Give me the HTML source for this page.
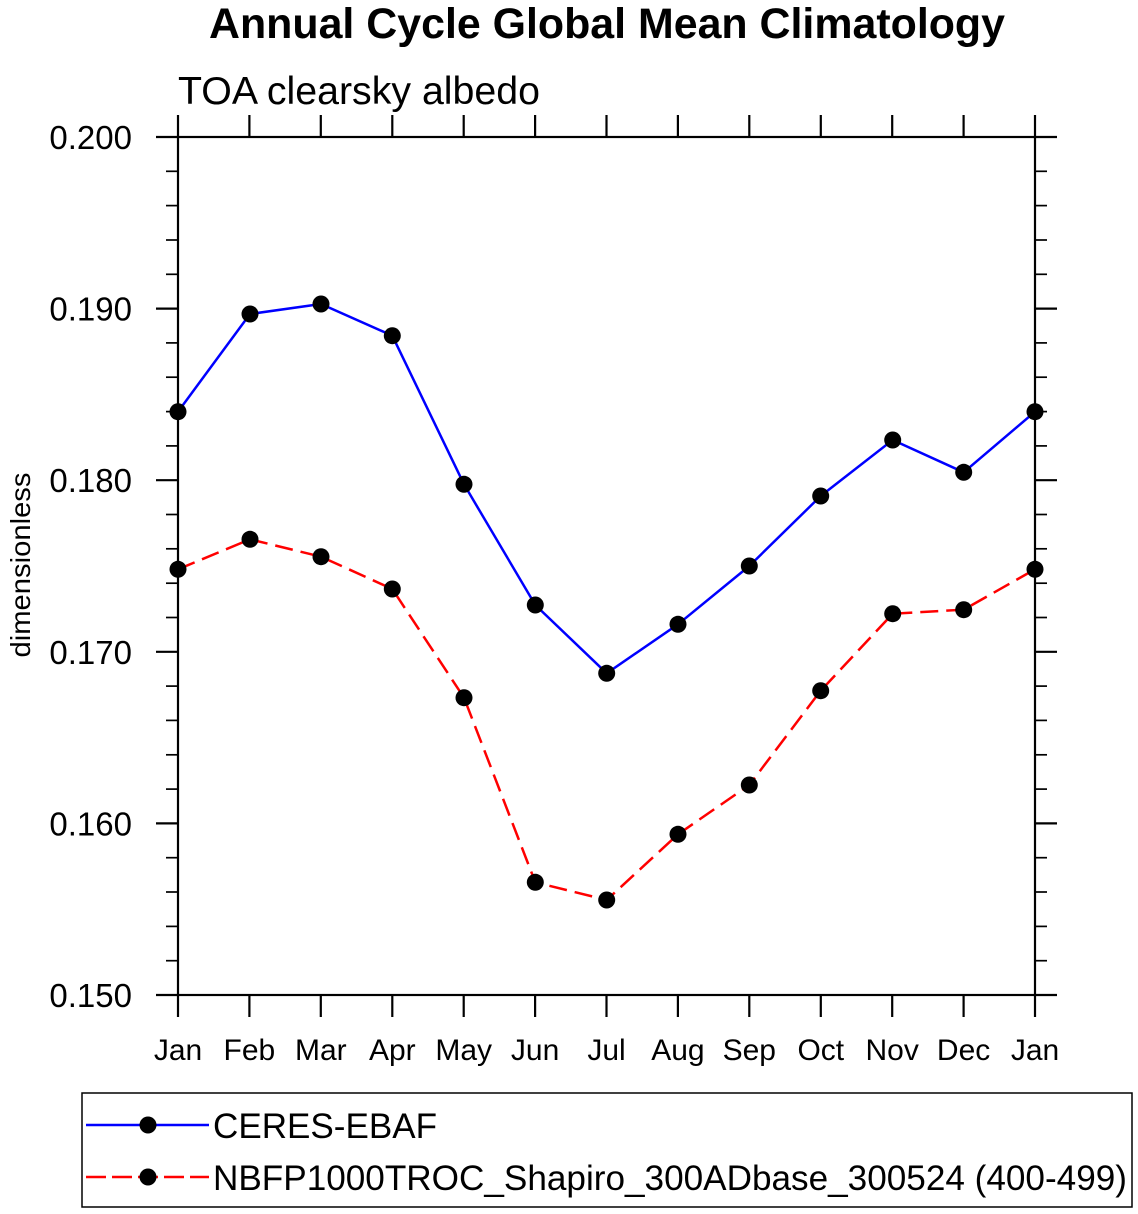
<!DOCTYPE html>
<html>
<head>
<meta charset="utf-8">
<style>
  html, body { margin:0; padding:0; background:#fff; }
  svg { display:block; }
  text { font-family: "Liberation Sans", Arial, Helvetica, sans-serif; fill:#000; }
</style>
</head>
<body>
<svg width="1138" height="1214" viewBox="0 0 1138 1214" xmlns="http://www.w3.org/2000/svg">
  <!-- Title -->
  <text x="607" y="38" font-size="43" font-weight="bold" text-anchor="middle" textLength="796" lengthAdjust="spacingAndGlyphs">Annual Cycle Global Mean Climatology</text>
  <text x="178" y="104" font-size="39" textLength="362" lengthAdjust="spacingAndGlyphs">TOA clearsky albedo</text>

  <!-- Y axis label -->
  <text transform="translate(30,565) rotate(-90)" font-size="28" text-anchor="middle" textLength="185" lengthAdjust="spacingAndGlyphs">dimensionless</text>

  <!-- Ticks -->
  <g stroke="#000" stroke-width="2.2" fill="none">
    <line x1="156" y1="137" x2="178" y2="137"/>
    <line x1="156" y1="308.6" x2="178" y2="308.6"/>
    <line x1="156" y1="480.2" x2="178" y2="480.2"/>
    <line x1="156" y1="651.8" x2="178" y2="651.8"/>
    <line x1="156" y1="823.4" x2="178" y2="823.4"/>
    <line x1="156" y1="995" x2="178" y2="995"/>
    <line x1="1035" y1="137" x2="1057" y2="137"/>
    <line x1="1035" y1="308.6" x2="1057" y2="308.6"/>
    <line x1="1035" y1="480.2" x2="1057" y2="480.2"/>
    <line x1="1035" y1="651.8" x2="1057" y2="651.8"/>
    <line x1="1035" y1="823.4" x2="1057" y2="823.4"/>
    <line x1="1035" y1="995" x2="1057" y2="995"/>
  </g>
  <g stroke="#000" stroke-width="1.7" fill="none">
    <line x1="166" y1="171.3" x2="178" y2="171.3"/><line x1="1035" y1="171.3" x2="1047" y2="171.3"/>
    <line x1="166" y1="205.6" x2="178" y2="205.6"/><line x1="1035" y1="205.6" x2="1047" y2="205.6"/>
    <line x1="166" y1="240.0" x2="178" y2="240.0"/><line x1="1035" y1="240.0" x2="1047" y2="240.0"/>
    <line x1="166" y1="274.3" x2="178" y2="274.3"/><line x1="1035" y1="274.3" x2="1047" y2="274.3"/>
    <line x1="166" y1="342.9" x2="178" y2="342.9"/><line x1="1035" y1="342.9" x2="1047" y2="342.9"/>
    <line x1="166" y1="377.2" x2="178" y2="377.2"/><line x1="1035" y1="377.2" x2="1047" y2="377.2"/>
    <line x1="166" y1="411.6" x2="178" y2="411.6"/><line x1="1035" y1="411.6" x2="1047" y2="411.6"/>
    <line x1="166" y1="445.9" x2="178" y2="445.9"/><line x1="1035" y1="445.9" x2="1047" y2="445.9"/>
    <line x1="166" y1="514.5" x2="178" y2="514.5"/><line x1="1035" y1="514.5" x2="1047" y2="514.5"/>
    <line x1="166" y1="548.8" x2="178" y2="548.8"/><line x1="1035" y1="548.8" x2="1047" y2="548.8"/>
    <line x1="166" y1="583.2" x2="178" y2="583.2"/><line x1="1035" y1="583.2" x2="1047" y2="583.2"/>
    <line x1="166" y1="617.5" x2="178" y2="617.5"/><line x1="1035" y1="617.5" x2="1047" y2="617.5"/>
    <line x1="166" y1="686.1" x2="178" y2="686.1"/><line x1="1035" y1="686.1" x2="1047" y2="686.1"/>
    <line x1="166" y1="720.4" x2="178" y2="720.4"/><line x1="1035" y1="720.4" x2="1047" y2="720.4"/>
    <line x1="166" y1="754.8" x2="178" y2="754.8"/><line x1="1035" y1="754.8" x2="1047" y2="754.8"/>
    <line x1="166" y1="789.1" x2="178" y2="789.1"/><line x1="1035" y1="789.1" x2="1047" y2="789.1"/>
    <line x1="166" y1="857.7" x2="178" y2="857.7"/><line x1="1035" y1="857.7" x2="1047" y2="857.7"/>
    <line x1="166" y1="892.0" x2="178" y2="892.0"/><line x1="1035" y1="892.0" x2="1047" y2="892.0"/>
    <line x1="166" y1="926.4" x2="178" y2="926.4"/><line x1="1035" y1="926.4" x2="1047" y2="926.4"/>
    <line x1="166" y1="960.7" x2="178" y2="960.7"/><line x1="1035" y1="960.7" x2="1047" y2="960.7"/>
  </g>
  <g stroke="#000" stroke-width="2.2" fill="none">
    <line x1="178" y1="115" x2="178" y2="137"/><line x1="178" y1="995" x2="178" y2="1017"/>
    <line x1="249.4" y1="115" x2="249.4" y2="137"/><line x1="249.4" y1="995" x2="249.4" y2="1017"/>
    <line x1="320.8" y1="115" x2="320.8" y2="137"/><line x1="320.8" y1="995" x2="320.8" y2="1017"/>
    <line x1="392.3" y1="115" x2="392.3" y2="137"/><line x1="392.3" y1="995" x2="392.3" y2="1017"/>
    <line x1="463.7" y1="115" x2="463.7" y2="137"/><line x1="463.7" y1="995" x2="463.7" y2="1017"/>
    <line x1="535.1" y1="115" x2="535.1" y2="137"/><line x1="535.1" y1="995" x2="535.1" y2="1017"/>
    <line x1="606.5" y1="115" x2="606.5" y2="137"/><line x1="606.5" y1="995" x2="606.5" y2="1017"/>
    <line x1="677.9" y1="115" x2="677.9" y2="137"/><line x1="677.9" y1="995" x2="677.9" y2="1017"/>
    <line x1="749.3" y1="115" x2="749.3" y2="137"/><line x1="749.3" y1="995" x2="749.3" y2="1017"/>
    <line x1="820.8" y1="115" x2="820.8" y2="137"/><line x1="820.8" y1="995" x2="820.8" y2="1017"/>
    <line x1="892.2" y1="115" x2="892.2" y2="137"/><line x1="892.2" y1="995" x2="892.2" y2="1017"/>
    <line x1="963.6" y1="115" x2="963.6" y2="137"/><line x1="963.6" y1="995" x2="963.6" y2="1017"/>
    <line x1="1035" y1="115" x2="1035" y2="137"/><line x1="1035" y1="995" x2="1035" y2="1017"/>
    <rect x="178" y="137" width="857" height="858"/>
  </g>

  <!-- Y tick labels -->
  <g font-size="33" text-anchor="end">
    <text x="132" y="149">0.200</text>
    <text x="132" y="320.6">0.190</text>
    <text x="132" y="492.2">0.180</text>
    <text x="132" y="663.8">0.170</text>
    <text x="132" y="835.4">0.160</text>
    <text x="132" y="1007">0.150</text>
  </g>

  <!-- X tick labels -->
  <g font-size="30" text-anchor="middle">
    <text x="178" y="1060">Jan</text>
    <text x="249.4" y="1060">Feb</text>
    <text x="320.8" y="1060">Mar</text>
    <text x="392.3" y="1060">Apr</text>
    <text x="463.7" y="1060">May</text>
    <text x="535.1" y="1060">Jun</text>
    <text x="606.5" y="1060">Jul</text>
    <text x="677.9" y="1060">Aug</text>
    <text x="749.3" y="1060">Sep</text>
    <text x="820.8" y="1060">Oct</text>
    <text x="892.2" y="1060">Nov</text>
    <text x="963.6" y="1060">Dec</text>
    <text x="1035" y="1060">Jan</text>
  </g>

  <!-- Series -->
  <polyline fill="none" stroke="#0000ff" stroke-width="2.5" stroke-linejoin="round"
    points="178,411.7 250,314 321,304 392.3,335.7 464,484.3 535.3,605 606.7,673.3 678,624.3 749.3,566 820.7,496 892.7,440 963.7,472.3 1035,411.7"/>
  <polyline fill="none" stroke="#ff0000" stroke-width="2.5" stroke-dasharray="18 8"
    points="178,569.3 250,539.3 321,556.7 392.3,589 464,697.7 535.3,882.3 606.7,900 678,834.3 749.3,785 820.7,690.7 892.7,613.7 963.7,609.7 1035,569.3"/>

  <g fill="#000">
    <circle cx="178" cy="411.7" r="8.5"/><circle cx="250" cy="314" r="8.5"/><circle cx="321" cy="304" r="8.5"/>
    <circle cx="392.3" cy="335.7" r="8.5"/><circle cx="464" cy="484.3" r="8.5"/><circle cx="535.3" cy="605" r="8.5"/>
    <circle cx="606.7" cy="673.3" r="8.5"/><circle cx="678" cy="624.3" r="8.5"/><circle cx="749.3" cy="566" r="8.5"/>
    <circle cx="820.7" cy="496" r="8.5"/><circle cx="892.7" cy="440" r="8.5"/><circle cx="963.7" cy="472.3" r="8.5"/>
    <circle cx="1035" cy="411.7" r="8.5"/>

    <circle cx="178" cy="569.3" r="8.5"/><circle cx="250" cy="539.3" r="8.5"/><circle cx="321" cy="556.7" r="8.5"/>
    <circle cx="392.3" cy="589" r="8.5"/><circle cx="464" cy="697.7" r="8.5"/><circle cx="535.3" cy="882.3" r="8.5"/>
    <circle cx="606.7" cy="900" r="8.5"/><circle cx="678" cy="834.3" r="8.5"/><circle cx="749.3" cy="785" r="8.5"/>
    <circle cx="820.7" cy="690.7" r="8.5"/><circle cx="892.7" cy="613.7" r="8.5"/><circle cx="963.7" cy="609.7" r="8.5"/>
    <circle cx="1035" cy="569.3" r="8.5"/>
  </g>

  <!-- Legend -->
  <rect x="82" y="1093" width="1050" height="114" fill="none" stroke="#000" stroke-width="1.5"/>
  <line x1="86" y1="1125" x2="209" y2="1125" stroke="#0000ff" stroke-width="2.5"/>
  <circle cx="148" cy="1125" r="8.5" fill="#000"/>
  <line x1="86" y1="1177" x2="209" y2="1177" stroke="#ff0000" stroke-width="2.5" stroke-dasharray="20 6"/>
  <circle cx="148" cy="1177" r="8.5" fill="#000"/>
  <text x="213" y="1138" font-size="35" textLength="224" lengthAdjust="spacingAndGlyphs">CERES-EBAF</text>
  <text x="213" y="1190" font-size="35" textLength="914" lengthAdjust="spacingAndGlyphs">NBFP1000TROC_Shapiro_300ADbase_300524 (400-499)</text>
</svg>
</body>
</html>
